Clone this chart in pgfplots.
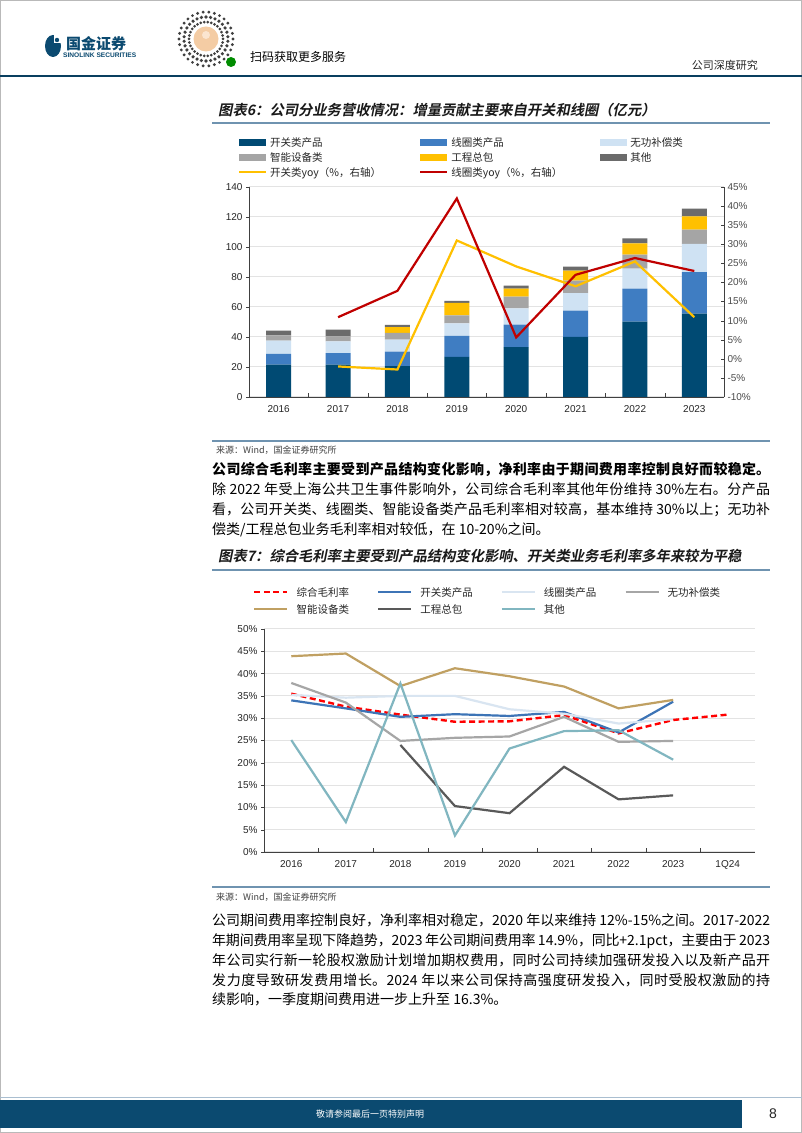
\documentclass[border=0pt]{standalone}
\usepackage{fontspec}
\setmainfont{Liberation Sans}
\newfontfamily\cjk{Noto Sans CJK SC}
\newfontfamily\cjkt{Noto Sans CJK SC Bold}[FakeSlant=0.2]
\usepackage{pgfplots}
\pgfplotsset{compat=1.18}
\XeTeXlinebreaklocale "zh"
\XeTeXlinebreakskip=0pt plus 2pt minus 0.3pt
\definecolor{kg}{HTML}{004A73}
\definecolor{xq}{HTML}{3F7DC2}
\definecolor{wg}{HTML}{CFE2F3}
\definecolor{zn}{HTML}{A5A5A5}
\definecolor{gc}{HTML}{FFC000}
\definecolor{qt}{HTML}{6B6B6B}
\definecolor{redl}{HTML}{C00000}
\definecolor{ttr}{HTML}{FF0000}
\definecolor{tkg}{HTML}{3D74B6}
\definecolor{txq}{HTML}{D9E5F1}
\definecolor{twg}{HTML}{A6A6A6}
\definecolor{tzn}{HTML}{C0A062}
\definecolor{tgc}{HTML}{595959}
\definecolor{tqt}{HTML}{81B6C0}
\definecolor{rulec}{HTML}{6F93B0}
\definecolor{navy}{HTML}{0B4A70}
\pgfplotsset{
  barleg/.style={legend image code/.code={\fill[##1] (0pt,-3.5pt) rectangle (27pt,3.5pt);}},
  linlegA/.style={legend image code/.code={\draw[##1] (0pt,0pt) -- (27pt,0pt);}},
  linlegB/.style={legend image code/.code={\draw[##1] (0pt,0pt) -- (33pt,0pt);}},
}
\newcommand\legA[1]{\makebox[149pt][l]{\rule[-4.5pt]{0pt}{15pt}#1}}
\newcommand\legB[1]{\makebox[80.5pt][l]{\rule[-5pt]{0pt}{16pt}#1}}
\begin{document}
\begin{tikzpicture}[font=\cjk]
\useasboundingbox (0,0) rectangle (802pt,1133pt);
\fill[white] (0,0) rectangle (802pt,1133pt);
\draw[gray!55, line width=0.8pt] (0.5pt,0.5pt) rectangle (801.5pt,1132.5pt);
% header
\fill[navy] (53pt,1087pt) ellipse (8pt and 11pt);
\fill[white] (54pt,1090pt) rectangle (62pt,1099pt);
\fill[navy] (57pt,1093pt) circle (2.2pt);
\node[anchor=west, inner sep=0pt, text=navy] at (66pt,1089pt) {\cjk\bfseries\fontsize{15}{16}\selectfont 国金证券};
\node[anchor=west, inner sep=0pt, text=navy] at (63pt,1078pt) {\rmfamily\bfseries\fontsize{6.6}{7}\selectfont SINOLINK SECURITIES};
\foreach \a in {0,12,...,348}{
  \fill[black!75] ([shift={(\a:17pt)}]206pt,1094pt) circle (1.5pt);
  \fill[black!75] ([shift={(\a+6:22pt)}]206pt,1094pt) circle (1.8pt);
  \fill[black!75] ([shift={(\a:27pt)}]206pt,1094pt) circle (1.6pt);
}
\fill[white] (206pt,1094pt) circle (13.5pt);
\fill[brown!45!orange!40] (206pt,1094pt) circle (12.5pt);
\fill[brown!30!orange!20] (206pt,1098pt) circle (4pt);
\fill[green!55!black] (231pt,1071pt) circle (5pt);
\node[anchor=west, inner sep=0pt] at (250pt,1076pt) {\cjk\fontsize{12}{14}\selectfont 扫码获取更多服务};
\node[anchor=east, inner sep=0pt, text=black!85] at (758pt,1068pt) {\cjk\fontsize{11}{13}\selectfont 公司深度研究};
\draw[navy!85!black, line width=1.1pt] (0pt,1057pt) -- (802pt,1057pt);
% title 1
\node[anchor=west, inner sep=0pt, text=black!90] at (218pt,1023pt) {\cjkt\fontsize{14.3}{16}\selectfont 图表6：公司分业务营收情况：增量贡献主要来自开关和线圈（亿元）};
\draw[rulec, line width=1.3pt] (212pt,1010pt) -- (770pt,1010pt);
% chart 1
\begin{axis}[
  at={(249pt,736pt)}, anchor=south west, scale only axis, width=475pt, height=210pt,
  ybar stacked, bar width=25pt,
  xmin=-0.5, xmax=7.5, ymin=0, ymax=140,
  xtick={0,...,7}, xticklabels={2016,2017,2018,2019,2020,2021,2022,2023},
  minor xtick={0.5,1.5,...,6.5},
  ytick={0,20,...,140},
  axis x line*=bottom, axis y line*=left,
  axis line style={black!75, line width=0.8pt},
  tick align=outside, major tick length=3pt, minor tick length=4pt,
  major x tick style={draw=none},
  minor x tick style={black!75, yshift=4pt},
  major y tick style={black!75},
  ymajorgrids, major grid style={gray!22, line width=1pt},
  tick label style={font=\rmfamily\fontsize{10}{12}\selectfont, text=black!85},
  xticklabel style={yshift=-2pt},
  /pgf/number format/assume math mode=true,
  legend columns=3, legend cell align=left,
  legend style={at={(-0.0232,1.242)}, anchor=north west, draw=none, fill=none,
    inner sep=0pt, outer sep=0pt, row sep=3pt,
    nodes={inner sep=0pt, outer sep=0pt, font=\cjk\fontsize{10.5}{12}\selectfont, text=black!85},
    /tikz/every odd column/.style={column sep=3pt}},
]
\addplot[fill=kg, draw=none, barleg] coordinates {(0,21.6)(1,21.6)(2,20.6)(3,26.7)(4,33.3)(5,40.0)(6,50.2)(7,55.6)};
\addlegendentry{\legA{开关类产品}}
\addplot[fill=xq, draw=none, barleg] coordinates {(0,7.1)(1,7.7)(2,9.6)(3,14.0)(4,14.9)(5,17.6)(6,22.0)(7,27.7)};
\addlegendentry{\legA{线圈类产品}}
\addplot[fill=wg, draw=none, barleg] coordinates {(0,8.9)(1,7.8)(2,8.0)(3,8.4)(4,10.9)(5,11.7)(6,13.4)(7,18.7)};
\addlegendentry{\legA{无功补偿类}}
\addplot[fill=zn, draw=none, barleg] coordinates {(0,3.5)(1,3.3)(2,4.5)(3,5.3)(4,7.8)(5,8.3)(6,9.3)(7,9.6)};
\addlegendentry{\legA{智能设备类}}
\addplot[fill=gc, draw=none, barleg] coordinates {(0,0)(1,0)(2,3.8)(3,8.4)(4,5.3)(5,6.6)(6,7.5)(7,8.8)};
\addlegendentry{\legA{工程总包}}
\addplot[fill=qt, draw=none, barleg] coordinates {(0,3.1)(1,4.5)(2,1.6)(3,1.3)(4,2.0)(5,2.7)(6,3.4)(7,5.2)};
\addlegendentry{\legA{其他}}
\addlegendimage{linlegA, gc, line width=2.2pt}
\addlegendentry{\legA{开关类yoy（\%，右轴）}}
\addlegendimage{linlegA, redl, line width=2.2pt}
\addlegendentry{\legA{线圈类yoy（\%，右轴）}}
\end{axis}
\begin{axis}[
  at={(249pt,736pt)}, anchor=south west, scale only axis, width=475pt, height=210pt,
  xmin=-0.5, xmax=7.5, ymin=-10, ymax=45,
  axis x line=none, axis y line*=right,
  axis line style={black!75, line width=0.8pt},
  ytick={-10,-5,...,45},
  yticklabels={-10\%,-5\%,0\%,5\%,10\%,15\%,20\%,25\%,30\%,35\%,40\%,45\%},
  tick align=inside, major tick length=3pt,
  major y tick style={black!75},
  tick label style={font=\rmfamily\fontsize{10}{12}\selectfont, text=black!70},
]
\addplot[gc, line width=2.2pt] coordinates {(1,-2.0)(2,-2.8)(3,31.0)(4,24.2)(5,19.0)(6,25.5)(7,10.9)};
\addplot[redl, line width=2.2pt] coordinates {(1,10.9)(2,17.8)(3,42.0)(4,5.6)(5,22.0)(6,26.4)(7,23.0)};
\end{axis}
\draw[rulec, line width=1.3pt] (212pt,692pt) -- (770pt,692pt);
\node[anchor=west, inner sep=0pt, text=black!75] at (216pt,683pt) {\cjk\fontsize{9}{11}\selectfont 来源：Wind，国金证券研究所};
% paragraph 1
\node[anchor=base west, inner sep=0pt, text width=558pt, align=justify, font=\cjk\fontsize{14}{19.7}\selectfont] at (212pt,658pt) {%
{\bfseries 公司综合毛利率主要受到产品结构变化影响，净利率由于期间费用率控制良好而较稳定。}\linebreak
除 2022 年受上海公共卫生事件影响外，公司综合毛利率其他年份维持 30\%左右。分产品\linebreak
看，公司开关类、线圈类、智能设备类产品毛利率相对较高，基本维持 30\%以上；无功补\linebreak
偿类/工程总包业务毛利率相对较低，在 10-20\%之间。\par};
% title 2
\node[anchor=west, inner sep=0pt, text=black!90] at (218pt,577pt) {\cjkt\fontsize{14.3}{16}\selectfont 图表7：综合毛利率主要受到产品结构变化影响、开关类业务毛利率多年来较为平稳};
\draw[rulec, line width=1.3pt] (212pt,563pt) -- (770pt,563pt);
% chart 2
\begin{axis}[
  at={(264pt,281pt)}, anchor=south west, scale only axis, width=491pt, height=223pt,
  xmin=-0.5, xmax=8.5, ymin=0, ymax=50,
  xtick={0,...,8}, xticklabels={2016,2017,2018,2019,2020,2021,2022,2023,1Q24},
  minor xtick={0.5,1.5,...,7.5},
  ytick={0,5,...,50},
  yticklabels={0\%,5\%,10\%,15\%,20\%,25\%,30\%,35\%,40\%,45\%,50\%},
  axis x line*=bottom, axis y line*=left,
  axis line style={black!75, line width=0.8pt},
  tick align=outside, major tick length=3pt, minor tick length=4pt,
  major x tick style={draw=none},
  minor x tick style={black!75, yshift=4pt},
  major y tick style={black!75},
  ymajorgrids, major grid style={gray!22, line width=1pt},
  tick label style={font=\rmfamily\fontsize{10}{12}\selectfont, text=black!85},
  xticklabel style={yshift=-2pt},
  legend columns=4, legend cell align=left,
  legend style={at={(-0.022,1.193)}, anchor=north west, draw=none, fill=none,
    inner sep=0pt, outer sep=0pt, row sep=4pt,
    nodes={inner sep=0pt, outer sep=0pt, font=\cjk\fontsize{10.5}{12}\selectfont, text=black!85},
    /tikz/every odd column/.style={column sep=8pt}},
]
\addplot[ttr, line width=2.4pt, dash pattern=on 6pt off 3.5pt, linlegB] coordinates {(0,35.5)(1,32.6)(2,30.8)(3,29.2)(4,29.3)(5,30.7)(6,26.6)(7,29.6)(8,30.8)};
\addlegendentry{\legB{综合毛利率}}
\addplot[tkg, line width=2.2pt, linlegB] coordinates {(0,34.0)(1,32.2)(2,30.3)(3,30.9)(4,30.5)(5,31.4)(6,26.8)(7,33.7)};
\addlegendentry{\legB{开关类产品}}
\addplot[txq, line width=2.2pt, linlegB] coordinates {(0,35.2)(1,34.6)(2,35.0)(3,35.0)(4,32.0)(5,31.0)(6,28.8)(7,29.8)};
\addlegendentry{\legB{线圈类产品}}
\addplot[twg, line width=2.2pt, linlegB] coordinates {(0,37.9)(1,33.5)(2,24.9)(3,25.6)(4,25.9)(5,30.3)(6,24.7)(7,24.9)};
\addlegendentry{\legB{无功补偿类}}
\addplot[tzn, line width=2.2pt, linlegB] coordinates {(0,43.9)(1,44.5)(2,37.2)(3,41.2)(4,39.4)(5,37.1)(6,32.2)(7,34.1)};
\addlegendentry{\legB{智能设备类}}
\addplot[tgc, line width=2.2pt, linlegB] coordinates {(2,24.0)(3,10.3)(4,8.7)(5,19.1)(6,11.8)(7,12.7)};
\addlegendentry{\legB{工程总包}}
\addplot[tqt, line width=2.2pt, linlegB] coordinates {(0,25.1)(1,6.7)(2,37.8)(3,3.7)(4,23.2)(5,27.1)(6,27.3)(7,20.7)};
\addlegendentry{\legB{其他}}
\end{axis}
\draw[rulec, line width=1.3pt] (212pt,246pt) -- (770pt,246pt);
\node[anchor=west, inner sep=0pt, text=black!75] at (216pt,236pt) {\cjk\fontsize{9}{11}\selectfont 来源：Wind，国金证券研究所};
% paragraph 2
\node[anchor=base west, inner sep=0pt, text width=558pt, align=justify, font=\cjk\fontsize{14}{19.7}\selectfont] at (212pt,207pt) {%
公司期间费用率控制良好，净利率相对稳定，2020 年以来维持 12\%-15\%之间。2017-2022\linebreak
年期间费用率呈现下降趋势，2023 年公司期间费用率 14.9\%，同比+2.1pct，主要由于 2023\linebreak
年公司实行新一轮股权激励计划增加期权费用，同时公司持续加强研发投入以及新产品开\linebreak
发力度导致研发费用增长。2024 年以来公司保持高强度研发投入，同时受股权激励的持\linebreak
续影响，一季度期间费用进一步上升至 16.3\%。\par};
% footer
\fill[navy] (0pt,5pt) rectangle (742pt,33pt);
\draw[rulec!60, line width=1pt] (0pt,35pt) -- (802pt,35pt);
\node[text=white, inner sep=0pt] at (370pt,19pt) {\cjk\fontsize{9}{11}\selectfont 敬请参阅最后一页特别声明};
\node[inner sep=0pt, text=black!85] at (773pt,19pt) {\rmfamily\fontsize{14}{16}\selectfont 8};
\end{tikzpicture}
\end{document}
